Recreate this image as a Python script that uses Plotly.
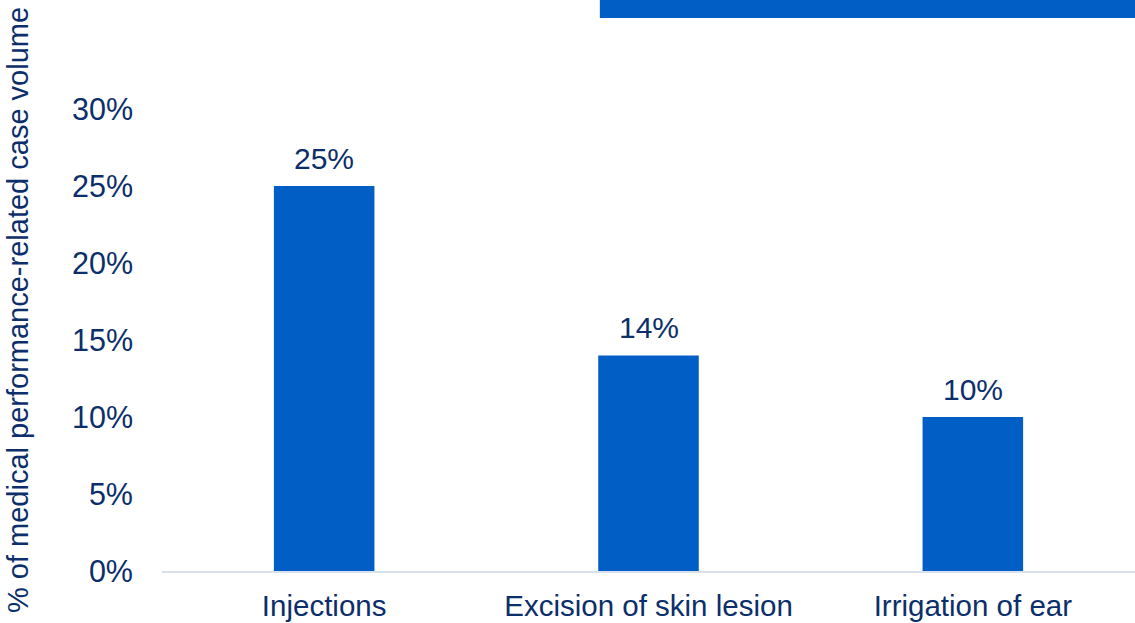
import plotly.graph_objects as go

# Share of medical performance-related case volume by procedure
categories = ["Injections", "Excision of skin lesion", "Irrigation of ear"]
shares = [25, 14, 10]
y_ticks = [0, 5, 10, 15, 20, 25, 30]
y_tick_labels = [f"{t}%" for t in y_ticks]

BAR_BLUE = "#005EC4"
NAVY = "#0C2F6B"
AXIS_GREY = "#D9E2EC"
FONT = "Arial, Liberation Sans, sans-serif"

fig = go.Figure()
fig.add_trace(go.Bar(
    x=categories,
    y=shares,
    marker=dict(color=BAR_BLUE, line=dict(width=0)),
    hoverinfo="skip",
))

# value labels above each bar
for cat, val in zip(categories, shares):
    fig.add_annotation(
        x=cat, y=val, text=f"{val}%", showarrow=False,
        xref="x", yref="y", yanchor="bottom", yshift=9,
        font=dict(family=FONT, size=30, color=NAVY),
    )

# vertical axis title
fig.add_annotation(
    text="% of medical performance-related case volume",
    textangle=-90, showarrow=False,
    xref="paper", yref="paper", x=0, y=0.5,
    xanchor="center", yanchor="middle",
    xshift=-144, yshift=30,
    font=dict(family=FONT, size=29, color=NAVY),
)

# banner strip across the top right
fig.add_shape(
    type="rect", xref="paper", yref="paper",
    x0=0.450, x1=1.0, y0=1.197, y1=1.25,
    fillcolor=BAR_BLUE, line=dict(width=0), layer="above",
)

fig.update_layout(
    width=1135, height=623,
    margin=dict(l=162, r=0, t=109, b=52),
    paper_bgcolor="white", plot_bgcolor="white",
    bargap=0.69, showlegend=False,
    font=dict(family=FONT, size=29, color=NAVY),
)
fig.update_xaxes(
    showgrid=False, showline=True, linecolor=AXIS_GREY, linewidth=2,
    ticks="", ticklabelstandoff=8,
    tickfont=dict(family=FONT, size=29.5, color=NAVY),
)
fig.update_yaxes(
    range=[0, 30], showgrid=False, zeroline=False, showline=False,
    tickvals=y_ticks, ticktext=y_tick_labels, ticks="",
    ticklabelstandoff=28,
    tickfont=dict(family=FONT, size=30.5, color=NAVY),
)

fig.write_html("out.html")
